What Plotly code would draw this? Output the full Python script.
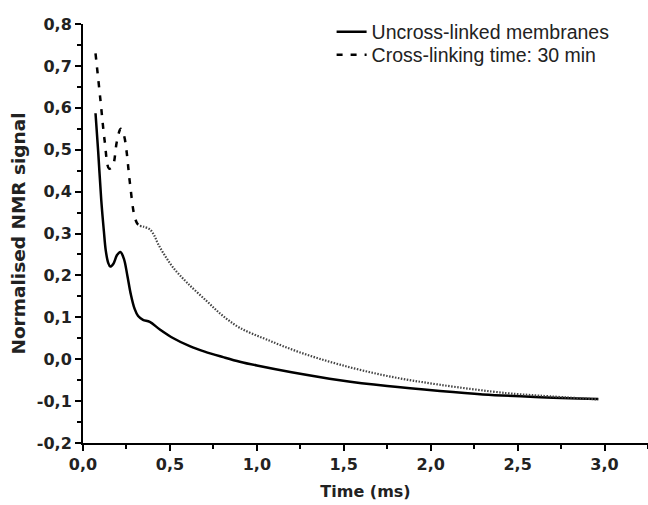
import plotly.graph_objects as go

# Uncross-linked membranes (solid)
t_solid = [0.072, 0.087, 0.105, 0.12, 0.131, 0.145, 0.157, 0.175, 0.195, 0.215, 0.235, 0.255,
           0.275, 0.297, 0.317, 0.345, 0.384, 0.442, 0.52, 0.614, 0.7, 0.806, 0.902, 1.0, 1.2,
           1.478, 1.75, 2.053, 2.3, 2.6, 2.964]
v_solid = [0.587, 0.498, 0.38, 0.306, 0.259, 0.23, 0.221, 0.228, 0.248, 0.256, 0.24, 0.2,
           0.155, 0.12, 0.103, 0.094, 0.089, 0.071, 0.05, 0.031, 0.018, 0.005, -0.006, -0.015, -0.031,
           -0.05, -0.064, -0.076, -0.084, -0.09, -0.095]

# Cross-linking time: 30 min (dashed)
t_dash = [0.072, 0.1, 0.125, 0.15, 0.17, 0.195, 0.217, 0.235, 0.25, 0.27, 0.298, 0.315, 0.327,
          0.35, 0.384, 0.41, 0.432, 0.47, 0.518, 0.6, 0.711, 0.8, 0.902, 1.056, 1.25, 1.478,
          1.75, 2.053, 2.437, 2.628, 2.964]
v_dash = [0.73, 0.62, 0.52, 0.455, 0.46, 0.52, 0.55, 0.535, 0.498, 0.42, 0.338, 0.322, 0.318,
          0.316, 0.31, 0.295, 0.275, 0.248, 0.219, 0.182, 0.139, 0.105, 0.075, 0.047, 0.016, -0.013,
          -0.04, -0.061, -0.081, -0.087, -0.096]

# Tick labels
x_ticks = [0.0, 0.5, 1.0, 1.5, 2.0, 2.5, 3.0]
x_labels = ["0,0", "0,5", "1,0", "1,5", "2,0", "2,5", "3,0"]
y_ticks = [-0.2, -0.1, 0.0, 0.1, 0.2, 0.3, 0.4, 0.5, 0.6, 0.7, 0.8]
y_labels = ["-0,2", "-0,1", "0,0", "0,1", "0,2", "0,3", "0,4", "0,5", "0,6", "0,7", "0,8"]

split = 13  # dashes visible in the steep part, dotted afterwards

TICK_FONT = "DejaVu Sans, Verdana, sans-serif"
LEG_FONT = "Liberation Sans, Arial, sans-serif"

fig = go.Figure()
fig.add_trace(go.Scatter(x=t_solid, y=v_solid, mode="lines", name="Uncross-linked membranes",
                         legend="legend",
                         line=dict(color="black", width=2.5, shape="spline")))
fig.add_trace(go.Scatter(x=t_dash[:split], y=v_dash[:split], mode="lines",
                         name="Cross-linking time: 30 min", legend="legend2",
                         line=dict(color="black", width=2.5, dash="6px,8px", shape="spline")))
fig.add_trace(go.Scatter(x=t_dash[split - 1:], y=v_dash[split - 1:], mode="lines", showlegend=False,
                         line=dict(color="#444444", width=2.2, dash="1.5px,1.5px", shape="spline")))

axis_common = dict(
    showline=True, linecolor="black", linewidth=2, mirror=False, showgrid=False, zeroline=False,
    ticks="outside", ticklen=6, tickwidth=2, tickcolor="black", automargin=False,
    tickfont=dict(family=TICK_FONT, size=16, color="#222222"),
)

leg_common = dict(x=0.44, xanchor="left", yanchor="middle", bgcolor="rgba(0,0,0,0)",
                  font=dict(family=LEG_FONT, size=19.5, color="#222222"), itemwidth=30)

fig.update_layout(
    width=648, height=505,
    margin=dict(l=83, r=0, t=24, b=62),
    plot_bgcolor="white", paper_bgcolor="white",
    legend=dict(y=0.981, **leg_common),
    legend2=dict(y=0.926, **leg_common),
    showlegend=True,
)
fig.update_xaxes(range=[0, 3.25], tickvals=x_ticks, ticktext=["<b>%s</b>" % s for s in x_labels],
                 title=dict(text="<b>Time (ms)</b>", standoff=13,
                            font=dict(family=TICK_FONT, size=16, color="#222222")),
                 minor=dict(dtick=0.25, ticks="outside", ticklen=4, tickwidth=2, tickcolor="black"),
                 **axis_common)
fig.update_yaxes(range=[-0.2, 0.8], tickvals=y_ticks, ticktext=["<b>%s</b>" % s for s in y_labels],
                 title=dict(text="<b>Normalised NMR signal</b>", standoff=6,
                            font=dict(family=TICK_FONT, size=18.5, color="#222222")),
                 minor=dict(dtick=0.05, ticks="outside", ticklen=4, tickwidth=2, tickcolor="black"),
                 **axis_common)

fig.write_html("out.html")
